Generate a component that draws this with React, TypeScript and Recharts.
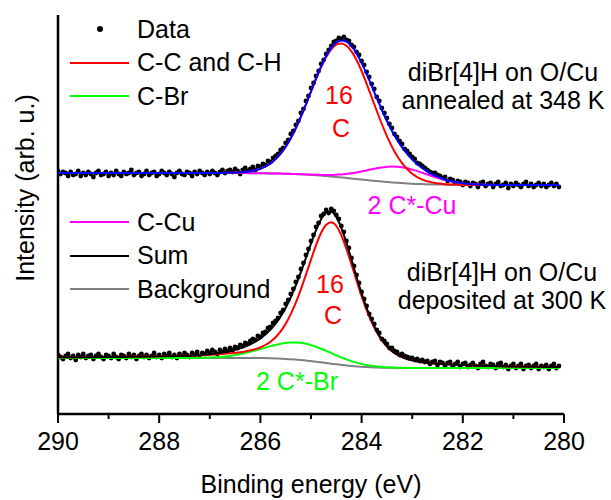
import { ComposedChart, Line, Scatter, XAxis, YAxis } from "recharts";

// binding energies (eV) where the fitted curves are sampled
const fitE = [
  290, 289, 288, 287.4, 287, 286.6, 286.3, 286, 285.8, 285.7, 285.6, 285.5, 285.4, 285.3, 285.2,
  285.1, 285, 284.9, 284.8, 284.7, 284.6, 284.5, 284.4, 284.3, 284.2, 284.1, 284, 283.9, 283.8,
  283.7, 283.6, 283.5, 283.4, 283.3, 283.2, 283.1, 283, 282.8, 282.6, 282.4, 282.2, 282, 281.6,
  281, 280.1,
];

// annealed at 348 K (upper spectrum, offset)
const topBg = [
  241, 241, 241, 241, 241, 241, 240.9, 240.8, 240.6, 240.5, 240.4, 240.3, 240.1, 239.9, 239.7,
  239.4, 239.1, 238.8, 238.4, 238, 237.5, 237.1, 236.6, 236.1, 235.5, 235, 234.5, 233.9, 233.4,
  232.9, 232.5, 232, 231.6, 231.2, 230.9, 230.6, 230.3, 229.9, 229.6, 229.4, 229.2, 229.1, 229,
  229, 229,
];
const topCC = [
  241, 241, 241, 241, 241, 241.2, 242, 245.3, 250.6, 254.9, 260.4, 267.4, 275.8, 285.8, 297.2,
  309.5, 322.4, 335.1, 346.9, 357, 364.6, 369.3, 370.6, 368.3, 362.6, 354, 343, 330.2, 316.7,
  303, 290, 277.9, 267.3, 258.3, 250.9, 245, 240.3, 234.4, 231.5, 230.1, 229.4, 229.2, 229,
  229, 229,
];
const topCCu = [
  241, 241, 241, 241, 241, 241, 240.9, 240.8, 240.6, 240.5, 240.4, 240.3, 240.1, 240, 239.8,
  239.6, 239.4, 239.3, 239.1, 239.1, 239, 239.3, 239.6, 240.1, 240.7, 241.6, 242.6, 243.6, 244.7,
  245.7, 246.6, 247.1, 247.4, 247.2, 246.7, 245.7, 244.4, 241.2, 237.7, 234.6, 232.2, 230.6, 229.3,
  229, 229,
];
const topSum = [
  241, 241, 241, 241, 241, 241.2, 242, 245.3, 250.6, 254.9, 260.4, 267.4, 275.8, 285.9, 297.3,
  309.7, 322.7, 335.6, 347.6, 358.1, 366.1, 371.5, 373.6, 372.3, 367.8, 360.6, 351.1, 339.9, 328,
  315.8, 304.1, 293, 283.1, 274.3, 266.7, 260.1, 254.4, 245.7, 239.6, 235.3, 232.4, 230.7, 229.3,
  229, 229,
];

// deposited at 300 K (lower spectrum)
const botBg = [
  56, 56, 56, 56, 56, 56, 56, 55.9, 55.7, 55.5, 55.3, 55.1, 54.8, 54.4, 54, 53.5, 52.9, 52.3,
  51.7, 51, 50.3, 49.7, 49.1, 48.5, 48, 47.6, 47.2, 46.9, 46.7, 46.5, 46.3, 46.2, 46.2, 46.1,
  46.1, 46, 46, 46, 46, 46, 46, 46, 46, 46, 46,
];
const botCC = [
  56.7, 57, 57.7, 58.5, 59.3, 60.7, 62.6, 66.6, 72.3, 76.7, 82.6, 90.3, 99.9, 111.4, 124.7, 139.3,
  154.4, 168.9, 181.2, 189.3, 191.7, 188, 178.6, 165.1, 149.5, 133.4, 117.9, 103.9, 91.8, 81.7,
  73.6, 67.4, 62.8, 59.3, 56.8, 54.9, 53.6, 51.8, 50.7, 49.9, 49.3, 48.9, 48.2, 47.5, 47,
];
const botCBr = [
  56, 56, 56, 56.1, 56.5, 58.1, 60.9, 64.9, 67.9, 69.1, 70.2, 71.1, 71.6, 71.6, 71.2, 70.3, 68.9,
  67.2, 65.3, 63.2, 60.9, 58.7, 56.6, 54.6, 52.9, 51.4, 50.1, 49, 48.2, 47.6, 47.1, 46.7, 46.5,
  46.3, 46.2, 46.1, 46, 46, 46, 46, 46, 46, 46, 46, 46,
];
const botSum = [
  56.7, 57, 57.7, 58.6, 59.8, 62.8, 67.5, 75.6, 84.5, 90.3, 97.5, 106.3, 116.7, 128.6, 141.9,
  156.1, 170.4, 183.8, 194.8, 201.5, 202.3, 197, 186.1, 171.2, 154.4, 137.2, 120.8, 106, 93.3,
  82.8, 74.4, 67.9, 63.1, 59.5, 56.9, 55, 53.6, 51.8, 50.7, 49.9, 49.3, 48.9, 48.2, 47.5, 47,
];

// measured points, 0.05 eV steps
const dataE = [
  290, 289.95, 289.9, 289.85, 289.8, 289.75, 289.7, 289.65, 289.6, 289.55,
  289.5, 289.45, 289.4, 289.35, 289.3, 289.25, 289.2, 289.15, 289.1, 289.05,
  289, 288.95, 288.9, 288.85, 288.8, 288.75, 288.7, 288.65, 288.6, 288.55,
  288.5, 288.45, 288.4, 288.35, 288.3, 288.25, 288.2, 288.15, 288.1, 288.05,
  288, 287.95, 287.9, 287.85, 287.8, 287.75, 287.7, 287.65, 287.6, 287.55,
  287.5, 287.45, 287.4, 287.35, 287.3, 287.25, 287.2, 287.15, 287.1, 287.05,
  287, 286.95, 286.9, 286.85, 286.8, 286.75, 286.7, 286.65, 286.6, 286.55,
  286.5, 286.45, 286.4, 286.35, 286.3, 286.25, 286.2, 286.15, 286.1, 286.05,
  286, 285.95, 285.9, 285.85, 285.8, 285.75, 285.7, 285.65, 285.6, 285.55,
  285.5, 285.45, 285.4, 285.35, 285.3, 285.25, 285.2, 285.15, 285.1, 285.05,
  285, 284.95, 284.9, 284.85, 284.8, 284.75, 284.7, 284.65, 284.6, 284.55,
  284.5, 284.45, 284.4, 284.35, 284.3, 284.25, 284.2, 284.15, 284.1, 284.05,
  284, 283.95, 283.9, 283.85, 283.8, 283.75, 283.7, 283.65, 283.6, 283.55,
  283.5, 283.45, 283.4, 283.35, 283.3, 283.25, 283.2, 283.15, 283.1, 283.05,
  283, 282.95, 282.9, 282.85, 282.8, 282.75, 282.7, 282.65, 282.6, 282.55,
  282.5, 282.45, 282.4, 282.35, 282.3, 282.25, 282.2, 282.15, 282.1, 282.05,
  282, 281.95, 281.9, 281.85, 281.8, 281.75, 281.7, 281.65, 281.6, 281.55,
  281.5, 281.45, 281.4, 281.35, 281.3, 281.25, 281.2, 281.15, 281.1, 281.05,
  281, 280.95, 280.9, 280.85, 280.8, 280.75, 280.7, 280.65, 280.6, 280.55,
  280.5, 280.45, 280.4, 280.35, 280.3, 280.25, 280.2, 280.15, 280.1,
];
const topData = [
  243, 240, 242, 241, 238, 242, 239, 240, 243, 238,
  241, 239, 242, 240, 237, 241, 243, 239, 240, 242,
  238, 241, 239, 243, 240, 238, 242, 240, 241, 244,
  239, 241, 242, 238, 240, 243, 239, 241, 242, 238,
  240, 243, 241, 239, 242, 240, 237, 241, 243, 240,
  239, 242, 241, 238, 242, 240, 243, 241, 239, 242,
  240, 243, 241, 239, 242, 244, 241, 243, 244, 242,
  245, 243, 240, 244, 246, 243, 245, 247, 244, 248,
  247, 250, 249, 253, 252, 256, 258, 260, 264, 266,
  271, 274, 280, 283, 289, 293, 301, 305, 313, 318,
  326, 331, 338, 343, 350, 354, 360, 364, 368, 372,
  373, 376, 375, 377, 374, 373, 369, 367, 362, 359,
  353, 349, 342, 337, 330, 325, 317, 313, 306, 301,
  296, 290, 286, 280, 277, 273, 270, 265, 263, 260,
  257, 255, 251, 250, 248, 246, 244, 242, 241, 241,
  239, 238, 236, 237, 233, 235, 234, 231, 233, 232,
  229, 232, 231, 228, 231, 230, 227, 231, 232, 228,
  230, 231, 227, 230, 232, 228, 229, 231, 226, 230,
  228, 231, 229, 227, 230, 232, 228, 230, 227, 229,
  231, 228, 230, 227, 229, 231, 228, 230, 227,
];
const botData = [
  59, 57, 55, 58, 60, 56, 58, 54, 59, 57,
  60, 56, 58, 59, 55, 58, 60, 57, 55, 59,
  58, 56, 60, 57, 55, 59, 58, 56, 60, 57,
  59, 55, 58, 60, 57, 59, 56, 58, 61, 57,
  59, 56, 60, 58, 61, 57, 59, 56, 60, 58,
  61, 59, 57, 61, 59, 62, 58, 61, 60, 63,
  61, 64, 62, 60, 64, 62, 65, 63, 66, 64,
  67, 66, 69, 68, 71, 70, 73, 75, 74, 78,
  77, 81, 82, 86, 87, 91, 93, 96, 101, 104,
  110, 114, 120, 125, 132, 137, 145, 151, 159, 165,
  173, 179, 187, 191, 198, 200, 204, 201, 205, 203,
  199, 195, 188, 182, 173, 166, 156, 148, 139, 131,
  122, 115, 108, 100, 95, 90, 84, 81, 75, 73,
  70, 66, 66, 63, 62, 59, 60, 58, 57, 56,
  56, 54, 55, 53, 54, 52, 53, 50, 52, 53,
  49, 52, 51, 48, 51, 52, 48, 50, 52, 47,
  50, 51, 47, 49, 51, 48, 46, 50, 52, 48,
  47, 50, 49, 46, 50, 51, 47, 49, 45, 48,
  50, 46, 48, 50, 45, 48, 49, 46, 48, 50,
  45, 48, 47, 49, 45, 48, 50, 46, 48,
];

const xTicks = [290, 289, 288, 287, 286, 285, 284, 283, 282, 281, 280];

const legendA = ["Data", "C-C and C-H", "C-Br"];
const legendAColors = ["#000000", "#ff0000", "#00ff00"];
const legendB = ["C-Cu", "Sum", "Background"];
const legendBColors = ["#ff00ff", "#000000", "#808080"];

type Row = { e: number; v: number };
const rows = (xs: number[], ys: number[]): Row[] => xs.map((e, i) => ({ e, v: ys[i] }));

const FONT = '"Liberation Sans", Arial, Helvetica, sans-serif';
const FS = 25;

function EnergyTick(props: any) {
  const { x, y, payload } = props;
  const major = payload.value % 2 === 0;
  return (
    <g>
      <line x1={x} x2={x} y1={y} y2={y + (major ? 9 : 5)} stroke="#000" strokeWidth={2} />
      {major ? (
        <text x={x} y={y + 36} textAnchor="middle" fontSize={FS} fontFamily={FONT} fill="#000">
          {payload.value}
        </text>
      ) : null}
    </g>
  );
}

const DataDot = (p: any) => <circle cx={p.cx} cy={p.cy} r={2.4} fill="#000" />;

// text placed by the visual centre of its capitals
function Txt({ x, y, color = "#000", center = false, children }: any) {
  return (
    <div
      style={{
        position: "absolute",
        left: center ? x - 150 : x,
        top: y - FS * 0.49,
        width: center ? 300 : undefined,
        textAlign: center ? "center" : "left",
        fontSize: FS,
        lineHeight: `${FS}px`,
        color,
        whiteSpace: "nowrap",
      }}
    >
      {children}
    </div>
  );
}

function LegendGroup({ labels, colors, y0 }: { labels: string[]; colors: string[]; y0: number }) {
  return (
    <>
      {labels.map((l, i) => {
        const y = y0 + i * 33.5;
        return (
          <div key={l}>
            {l === "Data" ? (
              <div style={{ position: "absolute", left: 97, top: y - 3, width: 6, height: 6, borderRadius: 3, background: "#000" }} />
            ) : (
              <div style={{ position: "absolute", left: 70, top: y - 1, width: 59, height: 2, background: colors[i] }} />
            )}
            <Txt x={137} y={y}>{l}</Txt>
          </div>
        );
      })}
    </>
  );
}

export default function App() {
  // fitted curves sit above the measured dots
  const line = (data: number[], color: string, key: string) => (
    <Line
      key={key}
      data={rows(fitE, data)}
      dataKey="v"
      type="monotone"
      stroke={color}
      strokeWidth={2}
      dot={false}
      activeDot={false}
      isAnimationActive={false}
      {...({ zIndex: 700 } as any)}
    />
  );
  const points = (data: number[], key: string) => (
    <Scatter
      key={key}
      data={rows(dataE, data)}
      dataKey="v"
      shape={DataDot}
      isAnimationActive={false}
      {...({ zIndex: 300 } as any)}
    />
  );

  return (
    <div style={{ position: "absolute", left: 0, top: 0, width: 611, height: 500, background: "#fff", fontFamily: FONT }}>
      <ComposedChart width={611} height={500} margin={{ top: 15, right: 47, bottom: 0, left: 38 }}>
        <XAxis
          dataKey="e"
          type="number"
          domain={[280, 290]}
          reversed
          allowDataOverflow
          ticks={xTicks}
          interval={0}
          tick={<EnergyTick />}
          tickLine={false}
          tickSize={0}
          tickMargin={0}
          height={86}
          axisLine={{ stroke: "#000", strokeWidth: 2.5 }}
          label={{ value: "Binding energy (eV)", position: "insideBottom", offset: 7, fontSize: FS, fill: "#000" }}
        />
        <YAxis
          dataKey="v"
          type="number"
          domain={[0, 399]}
          allowDataOverflow
          width={20}
          tick={false}
          tickLine={false}
          axisLine={{ stroke: "#000", strokeWidth: 2.5 }}
          label={() => (
            <text x={25} y={188} transform="rotate(-90 25 188)" textAnchor="middle" dominantBaseline="central" fontSize={FS} fontFamily={FONT} fill="#000">
              Intensity (arb. u.)
            </text>
          )}
        />
        {points(topData, "topData")}
        {points(botData, "botData")}
        {line(botBg, "#808080", "botBg")}
        {line(botCBr, "#00ff00", "botCBr")}
        {line(botCC, "#ff0000", "botCC")}
        {line(botSum, "#000000", "botSum")}
        {line(topBg, "#808080", "topBg")}
        {line(topCCu, "#ff00ff", "topCCu")}
        {line(topCC, "#ff0000", "topCC")}
        {line(topSum, "#0000ff", "topSum")}
      </ComposedChart>

      <LegendGroup labels={legendA} colors={legendAColors} y0={29} />
      <LegendGroup labels={legendB} colors={legendBColors} y0={222} />

      <Txt x={339} y={95} color="#ff0000" center>16</Txt>
      <Txt x={341} y={128} color="#ff0000" center>C</Txt>
      <Txt x={412} y={205} color="#ff00ff" center>2 C*-Cu</Txt>
      <Txt x={503} y={72} center>diBr[4]H on O/Cu</Txt>
      <Txt x={503} y={100} center>annealed at 348 K</Txt>

      <Txt x={330} y={284} color="#ff0000" center>16</Txt>
      <Txt x={333} y={315} color="#ff0000" center>C</Txt>
      <Txt x={297} y={381} color="#00ff00" center>2 C*-Br</Txt>
      <Txt x={502} y={272} center>diBr[4]H on O/Cu</Txt>
      <Txt x={502} y={300} center>deposited at 300 K</Txt>
    </div>
  );
}
